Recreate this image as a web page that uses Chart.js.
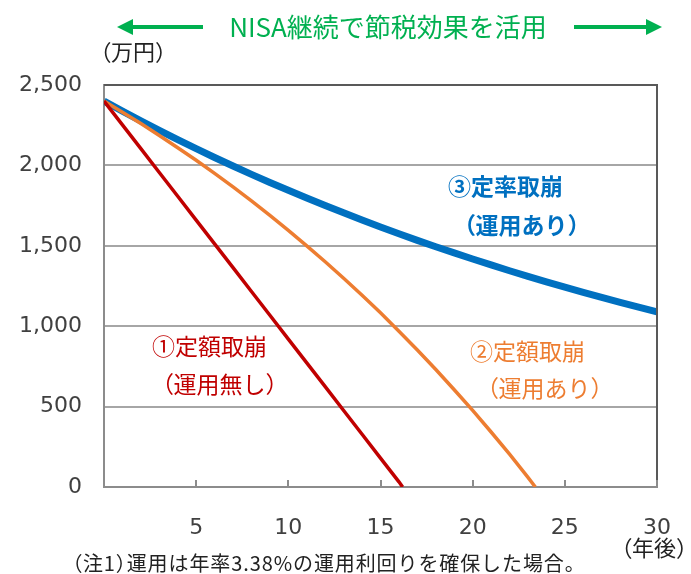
<!DOCTYPE html>
<html>
<head>
<meta charset="utf-8">
<script src="https://cdn.jsdelivr.net/npm/chart.js@4.4.1/dist/chart.umd.min.js"></script>
<style>
  html, body { margin: 0; padding: 0; background: #fff; }
  #wrap { width: 691px; height: 574px; position: relative; }
</style>
</head>
<body>
<div id="wrap"><canvas id="myChart" width="691" height="574"></canvas></div>
<script>
  // 年後
  const yearsFixed = [0,1,2,3,4,5,6,7,8,9,10,11,12,13,14,15,16,16.2];
  const fixedNoReturn = [2400,2252,2104,1956,1808,1660,1512,1364,1216,1068,920,772,624,476,328,180,32,0];

  const yearsFixedReturn = [0,1,2,3,4,5,6,7,8,9,10,11,12,13,14,15,16,17,18,19,20,21,22,23,23.4];
  const fixedWithReturn = [2400,2331,2260,2186,2110,2032,1950,1866,1779,1689,1596,1500,1401,1298,1192,1083,969,852,731,605,476,342,204,60,0];

  const yearsRate = [0,1,2,3,4,5,6,7,8,9,10,11,12,13,14,15,16,17,18,19,20,21,22,23,24,25,26,27,28,29,30];
  const rateWithReturn = [2400,2338,2277,2218,2160,2104,2049,1996,1944,1894,1845,1797,1750,1705,1660,1617,1575,1534,1494,1456,1418,1381,1345,1310,1276,1243,1211,1179,1148,1118,1089];

  const xTicks = [5,10,15,20,25,30];

  const toXY = (xs, ys) => xs.map((x, i) => ({ x: x, y: ys[i] }));

  const jp = '"Noto Sans CJK JP", "Noto Sans", sans-serif';
  const num = '"DejaVu Sans", sans-serif';

  // draw text with narrow full-width brackets (like a proportional JP font)
  function jpText(c, text, x, y, size, gap) {
    gap = gap || 0;
    let cx = x;
    for (const ch of text) {
      if (ch === '（') {
        c.fillText(ch, cx - size * 0.48, y);
        cx += size * 0.5 + gap;
      } else if (ch === '）') {
        c.fillText(ch, cx, y);
        cx += size * 0.5 + gap;
      } else {
        c.fillText(ch, cx, y);
        cx += c.measureText(ch).width + gap;
      }
    }
  }

  const decor = {
    id: 'decor',
    afterDraw(chart) {
      const c = chart.ctx;
      const a = chart.chartArea;
      const xs = chart.scales.x;
      c.save();

      // frame: top + right darker
      c.strokeStyle = '#595959';
      c.lineWidth = 2;
      c.beginPath();
      c.moveTo(a.left, a.top);
      c.lineTo(a.right, a.top);
      c.lineTo(a.right, a.bottom);
      c.stroke();

      // tick marks pointing up
      c.strokeStyle = '#8c8c8c';
      c.lineWidth = 2;
      xTicks.forEach(v => {
        const px = Math.round(xs.getPixelForValue(v));
        c.beginPath();
        c.moveTo(px, a.bottom);
        c.lineTo(px, a.bottom - 7);
        c.stroke();
      });

      // title + arrows
      const green = '#00b050';
      c.fillStyle = green;
      c.font = '26px ' + jp;
      c.textAlign = 'center';
      c.textBaseline = 'middle';
      c.fillText('NISA継続で節税効果を活用', 388, 27);
      c.strokeStyle = green;
      c.lineWidth = 4;
      c.beginPath();
      c.moveTo(130, 27); c.lineTo(203, 27);
      c.moveTo(574, 27); c.lineTo(648, 27);
      c.stroke();
      c.beginPath();
      c.moveTo(117, 27); c.lineTo(133, 19); c.lineTo(133, 35); c.closePath();
      c.moveTo(662, 27); c.lineTo(646, 19); c.lineTo(646, 35); c.closePath();
      c.fill();

      // units
      c.textAlign = 'left';
      c.fillStyle = '#222';
      c.font = '22px ' + jp;
      jpText(c, '（万円）', 100, 52, 22);
      jpText(c, '（年後）', 621, 548, 22);
      c.font = '20px ' + jp;
      jpText(c, '（注1）運用は年率3.38%の運用利回りを確保した場合。', 72, 563, 20, 0.9);

      // series labels
      c.font = 'bold 23px ' + jp;
      c.fillStyle = '#0070c0';
      jpText(c, '③定率取崩', 448, 186, 23);
      jpText(c, '（運用あり）', 464, 225, 23);

      c.font = '23px ' + jp;
      c.fillStyle = '#c00000';
      jpText(c, '①定額取崩', 152, 346, 23);
      jpText(c, '（運用無し）', 162, 384, 23);

      c.fillStyle = '#ed7d31';
      jpText(c, '②定額取崩', 470, 351, 23);
      jpText(c, '（運用あり）', 487, 388, 23);

      c.restore();
    }
  };

  new Chart(document.getElementById('myChart'), {
    type: 'line',
    data: {
      datasets: [
        { label: '①定額取崩（運用無し）', data: toXY(yearsFixed, fixedNoReturn), borderColor: '#c00000', borderWidth: 3.5, pointRadius: 0 },
        { label: '②定額取崩（運用あり）', data: toXY(yearsFixedReturn, fixedWithReturn), borderColor: '#ed7d31', borderWidth: 3.5, pointRadius: 0 },
        { label: '③定率取崩（運用あり）', data: toXY(yearsRate, rateWithReturn), borderColor: '#0070c0', borderWidth: 7, pointRadius: 0 }
      ]
    },
    options: {
      responsive: false,
      animation: false,
      layout: { padding: { left: 0, right: 34, top: 85, bottom: 0 } },
      plugins: { legend: { display: false }, tooltip: { enabled: false } },
      scales: {
        x: {
          type: 'linear',
          min: 0, max: 30,
          afterFit(s) { s.height = 87; },
          afterBuildTicks(s) { s.ticks = xTicks.map(v => ({ value: v })); },
          grid: { display: false },
          border: { color: '#8c8c8c', width: 2 },
          ticks: { color: '#404040', font: { family: num, size: 22 }, padding: 20, maxRotation: 0 }
        },
        y: {
          min: 0, max: 2500,
          afterFit(s) { s.width = 104; },
          grid: { color: '#a6a6a6', lineWidth: 2, drawTicks: false },
          border: { color: '#8c8c8c', width: 2 },
          ticks: { stepSize: 500, color: '#404040', font: { family: num, size: 22 }, padding: 22 }
        }
      }
    },
    plugins: [decor]
  });
</script>
</body>
</html>
